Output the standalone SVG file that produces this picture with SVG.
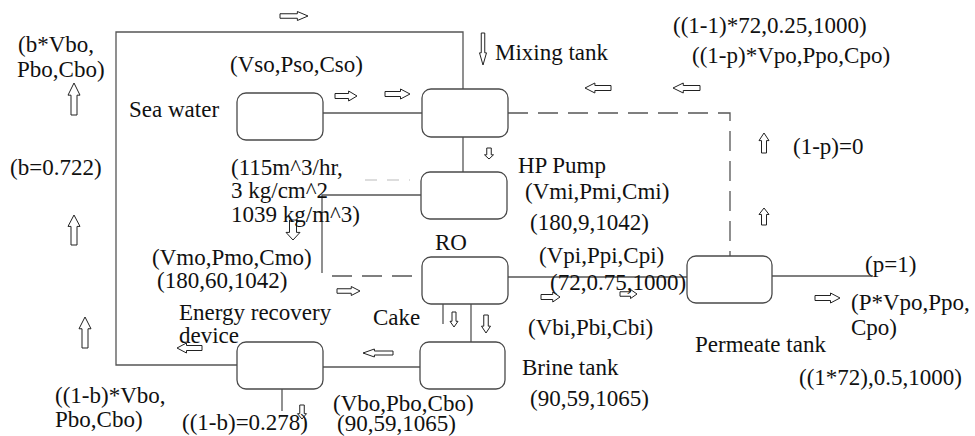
<svg xmlns="http://www.w3.org/2000/svg" width="975" height="436" viewBox="0 0 975 436">
<style>
.box{fill:#fff;stroke:#4a4a4a;stroke-width:1.3}
.ln{fill:none;stroke:#555;stroke-width:1.3}
.dash{fill:none;stroke:#555;stroke-width:1.3;stroke-dasharray:20 10}
</style>
<defs>
<path id="ar" d="M0,-0.25 L0.62,-0.25 L0.62,-0.5 L1,0 L0.62,0.5 L0.62,0.25 L0,0.25 Z" fill="#fff" stroke="#222" stroke-width="1" vector-effect="non-scaling-stroke"/>
</defs>
<rect width="975" height="436" fill="#fff"/>
<g id="connectors">
<polyline class="ln" points="237,365 116,365 116,32 463,32 463,89"/>
<line class="ln" x1="323" y1="113" x2="422" y2="113"/>
<line class="ln" x1="463" y1="137" x2="463" y2="172"/>
<polyline class="ln" points="421,195 322,195 322,273"/>
<line class="dash" x1="332" y1="276" x2="422" y2="276"/>
<line x1="365" y1="180" x2="410" y2="180" stroke="#bbb" stroke-width="1" stroke-dasharray="12 10"/>
<line class="ln" x1="471" y1="304" x2="471" y2="342"/>
<line class="ln" x1="443" y1="304" x2="443" y2="324"/>
<line class="ln" x1="323" y1="367" x2="420" y2="367"/>
<line class="ln" x1="282" y1="389" x2="282" y2="411"/>
<line class="ln" x1="508" y1="277" x2="687" y2="277"/>
<line class="ln" x1="772" y1="276" x2="873" y2="276"/>
<polyline class="dash" points="508,113 730,113 730,256"/>
</g>
<g id="arrows">
<use href="#ar" transform="translate(280,16) scale(28,9)"/>
<use href="#ar" transform="translate(483,33) rotate(90) scale(32,7)"/>
<use href="#ar" transform="translate(335,96) scale(22,10)"/>
<use href="#ar" transform="translate(385,94) scale(25,10)"/>
<use href="#ar" transform="translate(611,88) rotate(180) scale(26,10)"/>
<use href="#ar" transform="translate(700,88) rotate(180) scale(27,10)"/>
<use href="#ar" transform="translate(489,148) rotate(90) scale(11,9)"/>
<use href="#ar" transform="translate(764,153) rotate(-90) scale(20,10)"/>
<use href="#ar" transform="translate(764,225) rotate(-90) scale(17,10)"/>
<use href="#ar" transform="translate(74,115) rotate(-90) scale(32,12)"/>
<use href="#ar" transform="translate(74,245) rotate(-90) scale(30,12)"/>
<use href="#ar" transform="translate(85,348) rotate(-90) scale(31,12)"/>
<use href="#ar" transform="translate(293,220) rotate(90) scale(20,14)"/>
<use href="#ar" transform="translate(202,348) rotate(180) scale(25,10)"/>
<use href="#ar" transform="translate(302,405) rotate(90) scale(14,9)"/>
<use href="#ar" transform="translate(337,291) scale(23,9)"/>
<use href="#ar" transform="translate(454,312) rotate(90) scale(15,8)"/>
<use href="#ar" transform="translate(486,315) rotate(90) scale(18,9)"/>
<use href="#ar" transform="translate(393,353) rotate(180) scale(30,8)"/>
<use href="#ar" transform="translate(541,297) scale(19,10)"/>
<use href="#ar" transform="translate(620,294) scale(17,9)"/>
<use href="#ar" transform="translate(815,298) scale(25,10)"/>
</g>
<g font-family="'Liberation Serif', 'Times New Roman', 'DejaVu Serif', serif" font-size="23" fill="#111">
<g id="sea-water">
<rect class="box" x="237" y="93" width="86" height="47" rx="9"/>
<text x="129" y="117">Sea water</text>
</g>
<g id="mixing-tank">
<rect class="box" x="422" y="89" width="86" height="48" rx="9"/>
<text x="495" y="60">Mixing tank</text>
</g>
<g id="hp-pump">
<rect class="box" x="421" y="172" width="86" height="47" rx="9"/>
<text x="518" y="173">HP Pump</text>
</g>
<g id="ro">
<rect class="box" x="422" y="257" width="86" height="47" rx="9"/>
<text x="435" y="250">RO</text>
</g>
<g id="brine-tank">
<rect class="box" x="420" y="342" width="85" height="47" rx="9"/>
<text x="522" y="375">Brine tank</text>
</g>
<g id="energy-recovery-device">
<rect class="box" x="237" y="342" width="86" height="47" rx="9"/>
<text x="179" y="320">Energy recovery</text>
<text x="179" y="343">device</text>
</g>
<g id="permeate-tank">
<rect class="box" x="687" y="256" width="85" height="47" rx="9"/>
<text x="695" y="352">Permeate tank</text>
</g>
<g id="labels">
<text x="18" y="52">(b*Vbo,</text>
<text x="17" y="77">Pbo,Cbo)</text>
<text x="10" y="175">(b=0.722)</text>
<text x="230" y="72">(Vso,Pso,Cso)</text>
<text x="231" y="175">(115m^3/hr,</text>
<text x="231" y="198">3 kg/cm^2</text>
<text x="231" y="222">1039 kg/m^3)</text>
<text x="525" y="199">(Vmi,Pmi,Cmi)</text>
<text x="530" y="230">(180,9,1042)</text>
<text x="539" y="263">(Vpi,Ppi,Cpi)</text>
<text x="550" y="290">(72,0.75,1000)</text>
<text x="152" y="265">(Vmo,Pmo,Cmo)</text>
<text x="157" y="288">(180,60,1042)</text>
<text x="373" y="325">Cake</text>
<text x="528" y="335">(Vbi,Pbi,Cbi)</text>
<text x="530" y="406">(90,59,1065)</text>
<text x="333" y="411">(Vbo,Pbo,Cbo)</text>
<text x="337" y="431">(90,59,1065)</text>
<text x="55" y="403">((1-b)*Vbo,</text>
<text x="55" y="427">Pbo,Cbo)</text>
<text x="182" y="430">((1-b)=0.278)</text>
<text x="673" y="33">((1-1)*72,0.25,1000)</text>
<text x="692" y="63">((1-p)*Vpo,Ppo,Cpo)</text>
<text x="793" y="154">(1-p)=0</text>
<text x="865" y="272">(p=1)</text>
<text x="851" y="310">(P*Vpo,Ppo,</text>
<text x="851" y="335">Cpo)</text>
<text x="799" y="385">((1*72),0.5,1000)</text>
</g>
</g>
</svg>
